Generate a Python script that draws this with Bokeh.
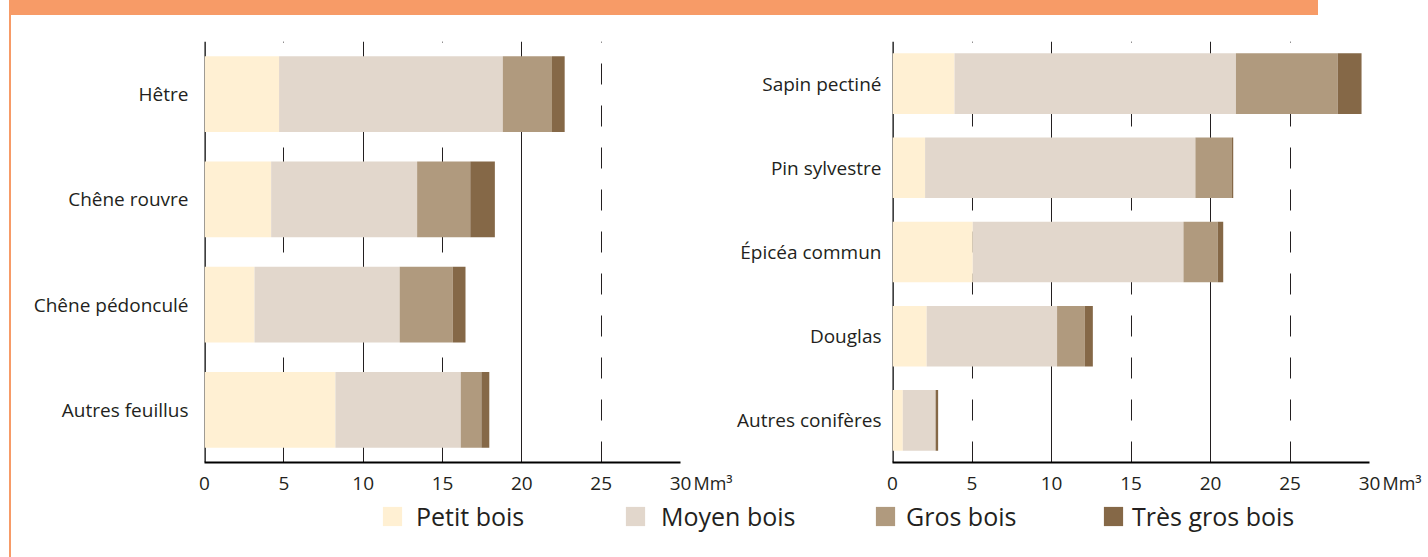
from bokeh.plotting import figure
from bokeh.models import (ColumnDataSource, FactorRange, Range1d, FixedTicker, Grid,
                          Span, Label, Legend, LegendItem, Div)
from bokeh.layouts import row, column
from bokeh.embed import file_html
from bokeh.resources import INLINE

# ---------------- data ----------------
FEUILLUS = ["Hêtre", "Chêne rouvre", "Chêne pédonculé", "Autres feuillus"]
F_PETIT = [4.7, 4.2, 3.15, 8.25]
F_MOYEN = [14.1, 9.2, 9.15, 7.9]
F_GROS = [3.1, 3.35, 3.35, 1.3]
F_TGROS = [0.8, 1.55, 0.8, 0.5]

RESINEUX = ["Sapin pectiné", "Pin sylvestre", "Épicéa commun", "Douglas", "Autres conifères"]
R_PETIT = [3.9, 2.05, 5.05, 2.15, 0.65]
R_MOYEN = [17.7, 17.0, 13.25, 8.2, 2.05]
R_GROS = [6.4, 2.3, 2.15, 1.75, 0.02]
R_TGROS = [1.5, 0.08, 0.35, 0.5, 0.15]

CLASSES = ["Petit bois", "Moyen bois", "Gros bois", "Très gros bois"]
COLORS = ["#FFF0D3", "#E2D7CC", "#B09A7E", "#856847"]
X_TICKS = [0, 5, 10, 15, 20, 25, 30]
SOLID_GRID = [10, 20, 30]
DASHED_GRID = [5, 15, 25]
X_MAX = 30
UNIT = "Mm³"

# ---------------- style ----------------
FONT = "Open Sans"
TEXT = "#231F20"
ORANGE = "#F79B67"
KEYS = ["petit", "moyen", "gros", "tgros"]


def chart(names, petit, moyen, gros, tgros, width, b_left, b_right, standoff):
    src = ColumnDataSource(dict(essence=names, petit=petit, moyen=moyen,
                                gros=gros, tgros=tgros))
    p = figure(width=width, height=483, title=None,
               y_range=FactorRange(factors=list(reversed(names))),
               x_range=Range1d(0, X_MAX),
               output_backend="svg", toolbar_location=None,
               min_border_left=b_left, min_border_right=b_right,
               min_border_top=26, min_border_bottom=36,
               outline_line_color=None, border_fill_color="white")
    p.ygrid.visible = False
    p.xgrid.ticker = FixedTicker(ticks=SOLID_GRID)
    p.xgrid.grid_line_color = TEXT
    p.xgrid.grid_line_width = 1
    p.xgrid.grid_line_alpha = 1
    p.add_layout(Grid(dimension=0, ticker=FixedTicker(ticks=DASHED_GRID),
                      grid_line_color=TEXT, grid_line_width=1,
                      grid_line_dash="21 21"))
    p.add_layout(Span(location=0, dimension="height", line_color="black",
                      line_width=2.5, level="underlay"))
    p.hbar_stack(KEYS, y="essence", height=0.72, source=src,
                 fill_color=COLORS, line_color=None)

    p.xaxis.ticker = FixedTicker(ticks=X_TICKS)
    p.xaxis.axis_line_color = "black"
    p.xaxis.axis_line_width = 2
    p.xaxis.major_tick_line_color = None
    p.xaxis.minor_tick_line_color = None
    p.xaxis.major_tick_out = 0
    p.xaxis.major_tick_in = 0
    p.xaxis.minor_tick_out = 0
    p.xaxis.major_label_standoff = 14
    p.xaxis.major_label_text_font = FONT
    p.xaxis.major_label_text_font_size = "19px"
    p.xaxis.major_label_text_color = TEXT

    p.yaxis.axis_line_color = None
    p.yaxis.major_tick_line_color = None
    p.yaxis.major_tick_out = 0
    p.yaxis.major_tick_in = 0
    p.yaxis.major_label_standoff = standoff
    p.yaxis.major_label_text_font = FONT
    p.yaxis.major_label_text_font_size = "19px"
    p.yaxis.major_label_text_color = TEXT

    p.add_layout(Label(x=X_MAX, y=0, x_offset=13, y_offset=-20, text=UNIT,
                       text_font=FONT, text_font_size="18px", text_color=TEXT,
                       text_baseline="alphabetic", text_align="left"), "right")
    return p


p_left = chart(FEUILLUS, F_PETIT, F_MOYEN, F_GROS, F_TGROS, 723, 193, 54, 16)
p_right = chart(RESINEUX, R_PETIT, R_MOYEN, R_GROS, R_TGROS, 694, 158, 59, 11)

# ---------------- legend ----------------
p_leg = figure(width=1417, height=59, title=None,
               x_range=Range1d(0, 1), y_range=Range1d(0, 1),
               x_axis_type=None, y_axis_type=None,
               output_backend="svg", toolbar_location=None,
               min_border=0, outline_line_color=None)
p_leg.grid.visible = False
LEG_X = [369, 612, 862, 1090]
LEG_STANDOFF = [12, 14, 9, 7]
for lab, col, lx, so in zip(CLASSES, COLORS, LEG_X, LEG_STANDOFF):
    # proxy renderer kept outside the visible range: only its legend swatch shows
    r = p_leg.rect(x=[-5], y=[-5], width=1, height=1, fill_color=col, line_color=None)
    leg = Legend(items=[LegendItem(label=lab, renderers=[r])],
                 location=(lx, 24), orientation="horizontal",
                 glyph_width=24, glyph_height=24, label_standoff=so,
                 padding=0, margin=0, spacing=0,
                 border_line_color=None, background_fill_alpha=0,
                 label_text_font=FONT, label_text_font_size="25px",
                 label_text_color=TEXT, label_height=24)
    p_leg.add_layout(leg)

banner = Div(text="", width=1309, height=15, margin=(0, 0, 0, 0),
             styles={"background-color": ORANGE})
pad_top = Div(text="", width=9, height=15, margin=(0, 0, 0, 0))
pad_left = Div(text="", width=9, height=542, margin=(0, 0, 0, 0))
strip = Div(text="", width=2, height=542, margin=(0, 0, 0, 0),
            styles={"background-color": ORANGE})

layout = column(row(pad_top, banner),
                row(pad_left, strip, column(row(p_left, p_right), p_leg)))

open("out.html", "w").write(file_html(layout, INLINE))
